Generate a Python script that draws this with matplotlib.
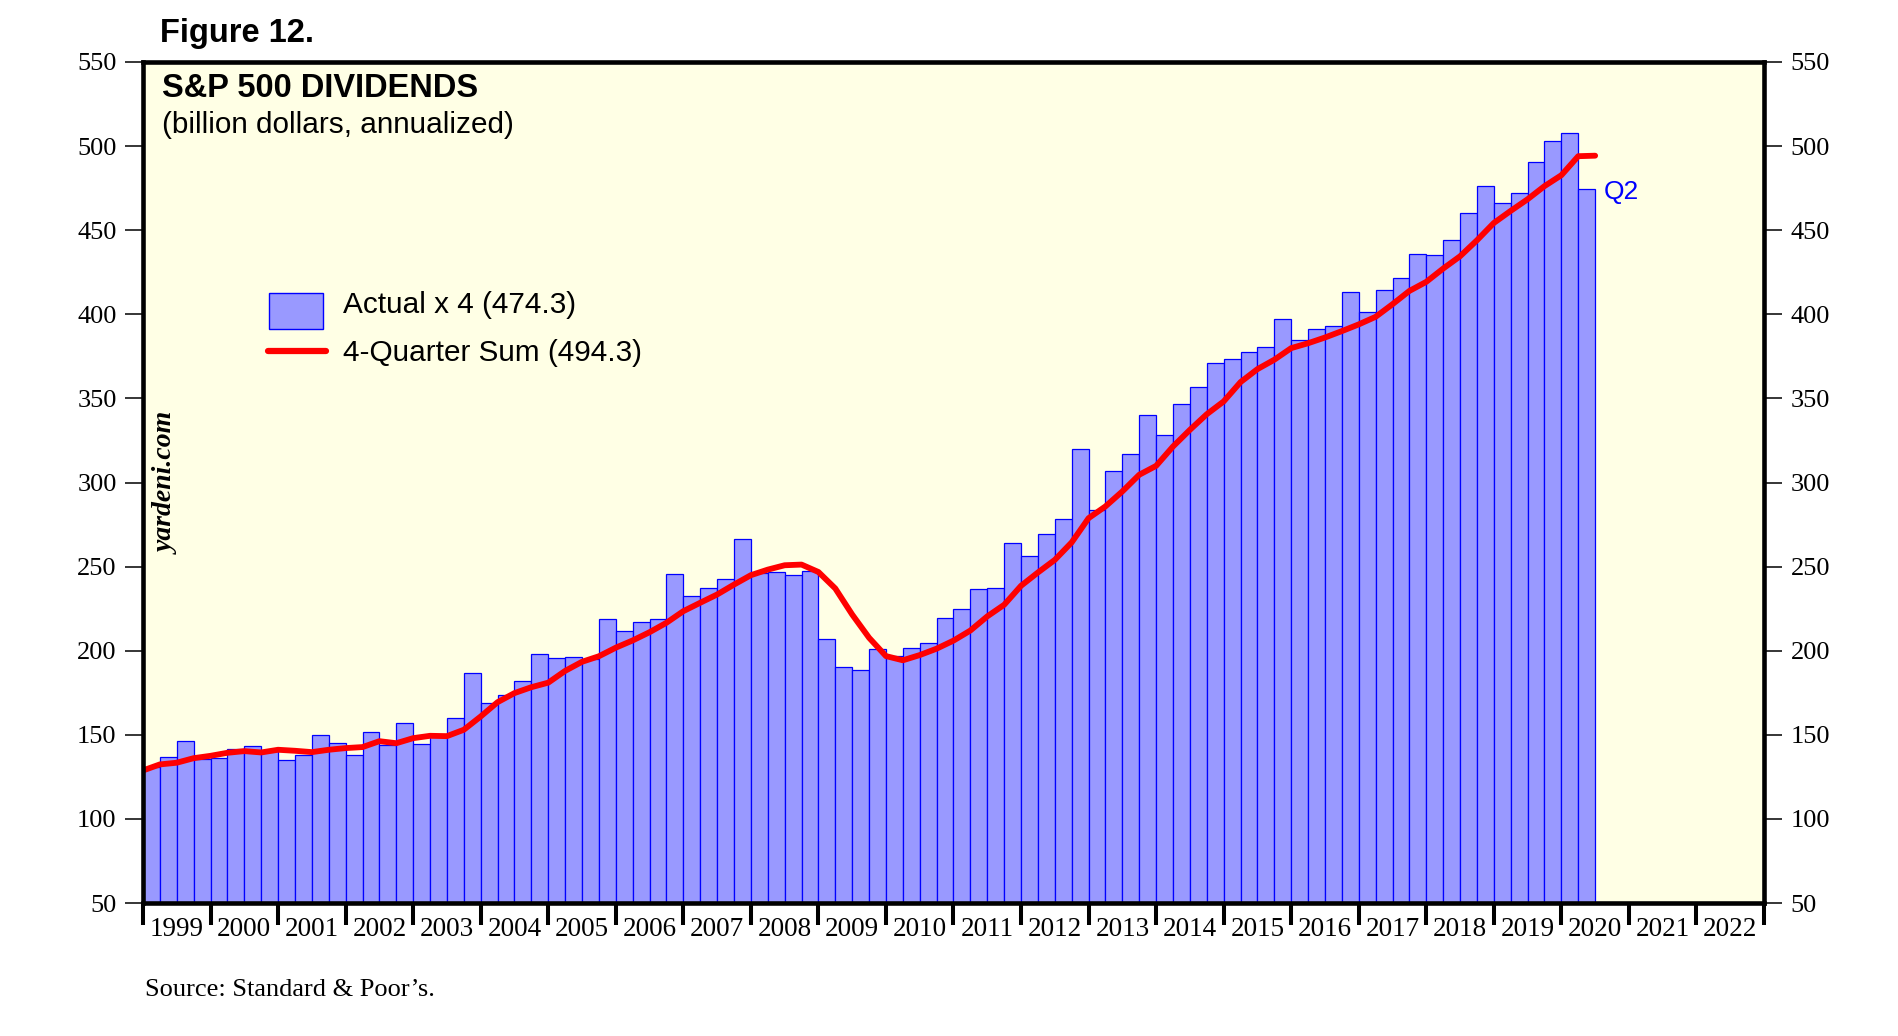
import numpy as np
import matplotlib
matplotlib.use('Agg')
import matplotlib.pyplot as plt
from matplotlib.patches import Rectangle
from matplotlib.lines import Line2D

# S&P 500 dividends, billion dollars, quarterly from 1999Q1 to 2020Q2
actual_x4 = [130.6, 136.8, 146.4, 135.6,
             136.0, 141.5, 143.3, 140.5,
             135.0, 138.0, 149.8, 145.0,
             138.0, 151.8, 143.9, 156.9,
             144.5, 149.6, 159.9, 186.6,
             168.8, 173.5, 181.8, 197.8,
             195.5, 196.0, 195.3, 218.6,
             212.0, 216.8, 218.6, 245.8,
             232.8, 237.0, 242.9, 266.6,
             246.2, 247.0, 245.3, 247.6,
             206.7, 190.1, 188.3, 200.8,
             196.6, 201.4, 204.3, 219.2,
             224.6, 236.5, 237.0, 263.8,
             256.1, 269.1, 278.1, 319.7,
             283.6, 306.6, 316.7, 339.9,
             328.0, 346.4, 356.5, 370.8,
             373.7, 377.3, 380.3, 397.5,
             385.0, 391.0, 393.0, 413.3,
             401.5, 414.7, 421.3, 436.1,
             435.5, 443.9, 460.5, 476.0,
             465.9, 472.4, 490.8, 503.3,
             507.5, 474.3]

# 4-quarter sum, one value per quarter end (starts at 1998Q4)
sum_4q = [128.8,
          132.4, 133.4, 136.1, 137.5,
          139.3, 140.3, 139.5, 141.1,
          140.5, 139.7, 141.1, 142.1,
          142.7, 146.2, 145.0, 148.0,
          149.4, 149.2, 153.0, 160.9,
          169.4, 174.8, 178.3, 181.0,
          188.0, 193.4, 196.7, 201.8,
          206.1, 211.0, 216.6, 223.5,
          228.5, 233.4, 239.3, 244.9,
          248.2, 250.8, 251.2, 246.8,
          237.0, 221.5, 207.7, 196.8,
          194.3, 197.4, 201.2, 206.0,
          212.0, 220.4, 227.3, 238.6,
          246.5, 254.0, 264.4, 278.8,
          285.8, 294.7, 304.6, 309.9,
          321.4, 331.3, 340.6, 348.2,
          359.7, 367.4, 373.0, 379.9,
          382.8, 386.2, 390.0, 394.0,
          398.5, 406.0, 413.9, 419.3,
          427.2, 434.5, 444.0, 454.3,
          461.5, 468.4, 476.2, 482.7,
          494.0, 494.3]

years = list(range(1999, 2023))
y_ticks = list(range(50, 551, 50))

W, H = 1898, 1036
fig = plt.figure(figsize=(W/100, H/100), dpi=100)
fig.patch.set_facecolor('white')

def fx(px):
    return px / W

def fy(py):
    return 1.0 - py / H

ax = fig.add_axes([fx(143), fy(903), fx(1764) - fx(143), fy(62) - fy(903)])
ax.set_facecolor('#FFFFE5')

q = np.arange(len(actual_x4))
ax.bar(q, actual_x4, width=1.0, align='edge', color='#9999FF',
       edgecolor='#0000FF', linewidth=0.9, zorder=2)
ax.plot(np.arange(len(sum_4q)), sum_4q, color='#FF0000', lw=4.2,
        solid_capstyle='round', solid_joinstyle='round', zorder=3)

ax.set_xlim(0, 4*len(years))
ax.set_ylim(50, 550)

for s in ax.spines.values():
    s.set_linewidth(3.3)
    s.set_color('black')
    s.set_zorder(5)

# y axis on both sides
ax.set_yticks(y_ticks)
ax.tick_params(axis='y', which='major', direction='out', length=13, width=1.1,
               left=True, right=True, labelleft=True, labelright=True,
               pad=6, labelsize=19)

# year boundaries as thick ticks, year labels centred between them
ax.set_xticks(np.arange(0, 4*len(years) + 1, 4))
ax.set_xticklabels([])
ax.set_xticks(np.arange(2, 4*len(years), 4), minor=True)
ax.set_xticklabels([str(y) for y in years], minor=True)
ax.tick_params(axis='x', which='major', direction='out', length=16, width=2.9)
ax.tick_params(axis='x', which='minor', length=0, pad=10, labelsize=19.5)

for lab in ax.get_yticklabels() + ax.get_xticklabels(minor=True):
    lab.set_fontfamily('Liberation Serif')

# titles and notes
fig.text(fx(160), fy(41.7), 'Figure 12.', fontsize=23.5, fontweight='bold',
         family='Liberation Sans', va='baseline')
fig.text(fx(162), fy(97.3), 'S&P 500 DIVIDENDS', fontsize=23.5, fontweight='bold',
         family='Liberation Sans', va='baseline')
fig.text(fx(162), fy(133), '(billion dollars, annualized)', fontsize=21.4,
         family='Liberation Sans', va='baseline')
fig.text(fx(167.5), fy(483.5), 'yardeni.com', fontsize=20, fontweight='bold',
         fontstyle='italic', family='Liberation Serif', rotation=90,
         ha='center', va='center')
fig.text(fx(1604), fy(199), 'Q2', fontsize=19, color='#0000FF',
         family='Liberation Sans', va='baseline')
fig.text(fx(145), fy(995.7), 'Source: Standard & Poor\u2019s.', fontsize=19,
         family='Liberation Serif', va='baseline')

# legend
fig.patches.append(Rectangle((fx(269.3), fy(329.3)), fx(323.3) - fx(269.3),
                             fy(293.3) - fy(329.3), transform=fig.transFigure,
                             facecolor='#9999FF', edgecolor='#0000FF', lw=1.0))
fig.lines.append(Line2D([fx(268), fx(326)], [fy(350.7), fy(350.7)],
                        transform=fig.transFigure, color='#FF0000', lw=4.5,
                        solid_capstyle='round'))
fig.text(fx(342.7), fy(313.3), 'Actual x 4 (474.3)', fontsize=21.4,
         family='Liberation Sans', va='baseline')
fig.text(fx(342.7), fy(360.7), '4-Quarter Sum (494.3)', fontsize=21.4,
         family='Liberation Sans', va='baseline')

fig.savefig('out.png', dpi=100)
